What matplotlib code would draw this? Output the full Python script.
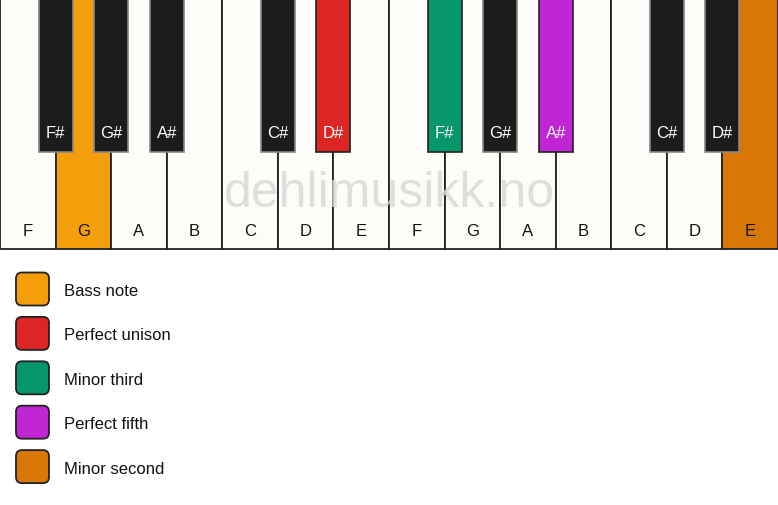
import matplotlib
matplotlib.use("Agg")
import matplotlib.pyplot as plt
from matplotlib.patches import Rectangle, FancyBboxPatch

plt.rcParams['font.family'] = ['Liberation Sans', 'DejaVu Sans']

# Data
white_notes = ["F", "G", "A", "B", "C", "D", "E", "F", "G", "A", "B", "C", "D", "E"]
black_notes = ["F#", "G#", "A#", "C#", "D#", "F#", "G#", "A#", "C#", "D#"]
black_after = [0, 1, 2, 4, 5, 7, 8, 9, 11, 12]   # black key sits after this white key index
white_highlight = {1: "#f59e0b", 13: "#d97706"}
black_highlight = {4: "#dc2626", 5: "#059669", 7: "#c026d3"}
legend_labels = ["Bass note", "Perfect unison", "Minor third", "Perfect fifth", "Minor second"]
legend_colors = ["#f59e0b", "#dc2626", "#059669", "#c026d3", "#d97706"]

W, H = 778, 506
fig = plt.figure(figsize=(W / 100, H / 100), dpi=100)
ax = fig.add_axes([0, 0, 1, 1])
n = len(white_notes)
kw = W / n
ax.set_xlim(0, W)
ax.set_ylim(H, 0)
ax.axis('off')
fig.patch.set_facecolor('white')

key_h = 250
black_h = 153
black_w = 34

for i, note in enumerate(white_notes):
    fc = white_highlight.get(i, "#fdfcf9")
    ax.add_patch(Rectangle((i * kw, 0), kw, key_h, facecolor=fc, edgecolor="#222222", lw=1.3, zorder=1))
    ax.text((i + 0.5) * kw, 231, note, ha='center', va='center', fontsize=12, color="#111111", zorder=5)

ax.text(389.5, 207, "dehlimusikk.no", ha='center', va='baseline', fontsize=36,
        color="#d9d9d9", alpha=0.85, zorder=2)

for j, (note, idx) in enumerate(zip(black_notes, black_after)):
    cx = (idx + 1) * kw
    fc = black_highlight.get(j, "#1c1c1c")
    ec = "#222222" if j in black_highlight else "#888888"
    ax.add_patch(Rectangle((cx - black_w / 2, 0), black_w, black_h, facecolor=fc, edgecolor=ec, lw=1.2, zorder=3))
    ax.text(cx, 133, note, ha='center', va='center', fontsize=12, color="white", zorder=5)

for k, (lab, col) in enumerate(zip(legend_labels, legend_colors)):
    cy = 290 + k * 44.4
    ax.add_patch(FancyBboxPatch((16, cy - 16.5), 33, 33, boxstyle="round,pad=0,rounding_size=6",
                                facecolor=col, edgecolor="#222222", lw=1.3, zorder=3))
    ax.text(64, cy + 1.5, lab, ha='left', va='center', fontsize=12, color="#111111")

fig.savefig("out.png", dpi=100, facecolor='white')
